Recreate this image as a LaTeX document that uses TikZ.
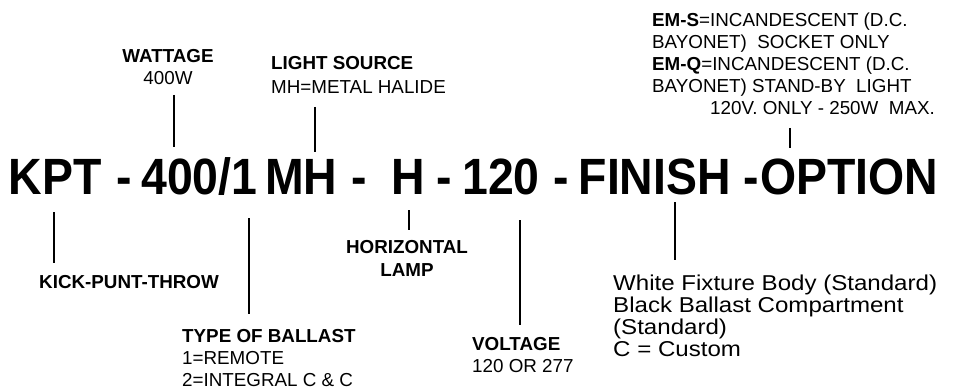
\documentclass[tikz,border=0pt]{standalone}
\usepackage{fontspec}
\setmainfont{Liberation Sans}
\newfontfamily\codefont[FakeStretch=0.91]{Liberation Sans}
\newfontfamily\finfont[FakeStretch=1.12]{Liberation Sans}
\begin{document}
\begin{tikzpicture}[x=1pt,y=-1pt,
  code/.style={anchor=base west,inner sep=0pt,font=\codefont\bfseries\fontsize{51}{51}\selectfont},
  lbl/.style={anchor=base west,inner sep=0pt,font=\fontsize{18.8}{22}\selectfont},
  lblb/.style={lbl,font=\bfseries\fontsize{18.8}{22}\selectfont},
  fin/.style={anchor=base west,inner sep=0pt,font=\finfont\fontsize{21.5}{22}\selectfont},
  tick/.style={line width=2.4pt}]
\useasboundingbox[fill=white] (0,0) rectangle (955,390);

% code line
\node[code] (kpt) at (8.6,195) {KPT};
\node[code] (d1) at (116,195) {-};
\node[code] (watt) at (141,195) {400/1};
\node[code] (mh) at (265,195) {MH};
\node[code] (d2) at (351,195) {-};
\node[code] (hh) at (391.6,195) {H};
\node[code] (d3) at (436,195) {-};
\node[code] (volt) at (462,195) {120};
\node[code] (d4) at (553,195) {-};
\node[code] (finish) at (578.5,195) {FINISH};
\node[code] (d5) at (743,195) {-};
\node[code] (option) at (760,195) {OPTION};

% upper labels
\node[lblb,anchor=base] (wattlbl) at (168,63) {WATTAGE};
\node[lbl,anchor=base] (wattval) at (168,85) {400W};
\node[lblb] (srclbl) at (271,70) {LIGHT SOURCE};
\node[lbl] (srcval) at (271,94) {MH=METAL HALIDE};

\node[lbl] (opt1) at (652,27) {\textbf{EM-S}=INCANDESCENT (D.C.};
\node[lbl] (opt2) at (652,49) {BAYONET)\ \ SOCKET ONLY};
\node[lbl] (opt3) at (652,71) {\textbf{EM-Q}=INCANDESCENT (D.C.};
\node[lbl] (opt4) at (652,93) {BAYONET) STAND-BY\ \ LIGHT};
\node[lbl] (opt5) at (710,115) {120V. ONLY - 250W\ \ MAX.};

% lower labels
\node[lblb] (kptlbl) at (39,288) {KICK-PUNT-THROW};
\node[lblb] (balllbl) at (182,342) {TYPE OF BALLAST};
\node[lbl] (ball1) at (182,364) {1=REMOTE};
\node[lbl] (ball2) at (182,386) {2=INTEGRAL C \& C};
\node[lblb,anchor=base] (horlbl) at (407,253) {HORIZONTAL};
\node[lblb,anchor=base] (horlbl2) at (407,276) {LAMP};
\node[lblb] (voltlbl) at (472,350) {VOLTAGE};
\node[lbl] (voltval) at (472,372) {120 OR 277};
\node[fin] (fin1) at (613,290) {White Fixture Body (Standard)};
\node[fin] (fin2) at (613,312) {Black Ballast Compartment};
\node[fin] (fin3) at (613,334) {(Standard)};
\node[fin] (fin4) at (613,356) {C = Custom};

% connector end points
\coordinate (wA) at (174,95);  \coordinate (wB) at (174,147);
\coordinate (sA) at (315,107); \coordinate (sB) at (315,152);
\coordinate (oA) at (790,128); \coordinate (oB) at (790,148);
\coordinate (kA) at (54,212);  \coordinate (kB) at (54,263);
\coordinate (bA) at (249,218); \coordinate (bB) at (249,314);
\coordinate (hA) at (409,210); \coordinate (hB) at (409,230);
\coordinate (vA) at (520,220); \coordinate (vB) at (520,325);
\coordinate (fA) at (675,202); \coordinate (fB) at (675,260);

\draw[tick] (wA) -- (wB);
\draw[tick] (sA) -- (sB);
\draw[tick] (oA) -- (oB);
\draw[tick] (kA) -- (kB);
\draw[tick] (bA) -- (bB);
\draw[tick] (hA) -- (hB);
\draw[tick] (vA) -- (vB);
\draw[tick] (fA) -- (fB);
\end{tikzpicture}
\end{document}
